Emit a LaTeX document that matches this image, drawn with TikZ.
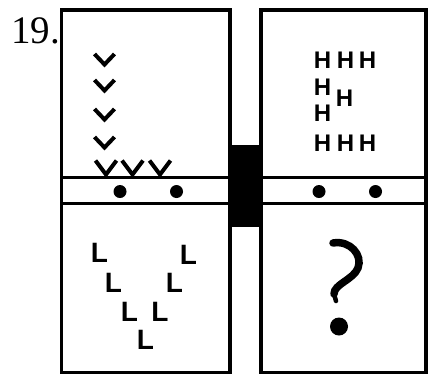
\documentclass[tikz,border=0pt]{standalone}
\usepackage{fontspec}
\setmainfont{Liberation Serif}
\newfontfamily\letterfont{Liberation Sans}
\usepackage{tikz}

\tikzset{
  panel/.style={line width=3.5pt},
  chev/.style={line width=4pt,line join=miter},
  hlet/.style={font=\letterfont\bfseries\fontsize{24}{24}\selectfont,inner sep=0pt},
  llet/.style={font=\letterfont\bfseries\fontsize{28}{28}\selectfont,inner sep=0pt},
}

\begin{document}
\begin{tikzpicture}[x=1pt,y=-1pt]
			\useasboundingbox (0,0) rectangle (428,376);
			% number
			\node[anchor=base west,inner sep=0pt,font=\fontsize{39}{39}\selectfont] (num) at (11,43) {19.};
			% the two panels and the bar between them
			\draw[panel] (61.5,10) rectangle (230,372.5);
			\draw[panel] (261,10) rectangle (426,372.5);
			\draw[panel] (61.5,177.5)-- (230,177.5);
			\draw[panel] (61.5,203.5)-- (230,203.5);
			\draw[panel] (261,177.5)-- (426,177.5);
			\draw[panel] (261,203.5)-- (426,203.5);
			\fill (228,145) rectangle (263,227);
			% dots in the strips
			\fill (120,191.5) circle (6.5);
			\fill (176.5,191.5) circle (6.5);
			\fill (319,191.5) circle (6.5);
			\fill (375.5,191.5) circle (6.5);
			% top left: chevrons
			\foreach \y in {59.5,85.5,114.5,142.5}
				\draw[chev] (94.5,\y-5.5)-- (104.5,\y+5)-- (114.5,\y-5.5);
			\foreach \x in {106,132.5,160}
				\draw[chev] (\x-10.5,160.5)-- (\x,174.5)-- (\x+10.5,160.5);
			% top right: H letters
			\node[hlet] (h1) at (322.5,60) {H};
			\node[hlet] (h2) at (345.5,60) {H};
			\node[hlet] (h3) at (367.5,60) {H};
			\node[hlet] (h4) at (322.5,87.5) {H};
			\node[hlet] (h5) at (344.5,98.5) {H};
			\node[hlet] (h6) at (322.5,113.5) {H};
			\node[hlet] (h7) at (322.5,143.5) {H};
			\node[hlet] (h8) at (345.5,143.5) {H};
			\node[hlet] (h9) at (367.5,143.5) {H};
			% bottom left: L letters
			\node[llet] (l1) at (99.5,253) {L};
			\node[llet] (l2) at (113.5,283) {L};
			\node[llet] (l3) at (129.5,312) {L};
			\node[llet] (l4) at (145.5,340) {L};
			\node[llet] (l5) at (188.5,255) {L};
			\node[llet] (l6) at (174.5,283) {L};
			\node[llet] (l7) at (160,312) {L};
			% bottom right: question mark
			\draw[line width=7.5pt,line cap=round] (333,243) .. controls (350,240) and (363,255) .. (358,268) .. controls (353,280) and (334,284) .. (334,294);
			\draw[line width=4.5pt,line cap=round] (334,294)-- (336,301);
			\fill (339,326.5) circle (9);
		\end{tikzpicture}
\end{document}
